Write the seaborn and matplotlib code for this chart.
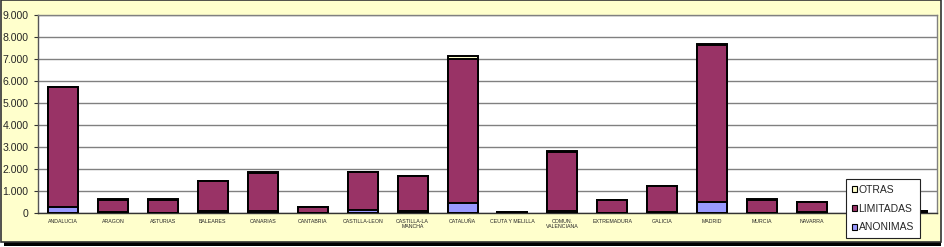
import matplotlib
matplotlib.use("Agg")
import matplotlib.pyplot as plt
import seaborn as sns
import pandas as pd
import numpy as np
from matplotlib.patches import Rectangle
from matplotlib.ticker import FuncFormatter

regions = ["ANDALUCIA", "ARAGON", "ASTURIAS", "BALEARES", "CANARIAS", "CANTABRIA",
           "CASTILLA-LEON", "CASTILLA-LA\nMANCHA", "CATALUÑA", "CEUTA Y MELILLA",
           "COMUN.\nVALENCIANA", "EXTREMADURA", "GALICIA", "MADRID", "MURCIA",
           "NAVARRA", "PAIS VASCO", "RIOJA"]
anonimas = [270, 40, 20, 80, 100, 20, 140, 80, 440, 5, 100, 20, 30, 500, 20, 60, 60, 10]
limitadas = [5450, 570, 590, 1360, 1740, 260, 1720, 1580, 6570, 50, 2690, 560, 1200, 7140, 590, 450, 900, 90]
otras = [20, 10, 10, 10, 20, 10, 20, 20, 130, 5, 30, 10, 20, 60, 10, 10, 20, 5]
yticks = [0, 1000, 2000, 3000, 4000, 5000, 6000, 7000, 8000, 9000]

df = pd.DataFrame({"region": regions, "ANONIMAS": anonimas,
                   "LIMITADAS": limitadas, "OTRAS": otras})
df["lvl1"] = df["ANONIMAS"]
df["lvl2"] = df["ANONIMAS"] + df["LIMITADAS"]
df["lvl3"] = df["lvl2"] + df["OTRAS"]

c_an, c_lim, c_ot = "#9999FF", "#993366", "#FFFFCC"
bg = "#FFFFCC"

sns.set_theme(style="white")
plt.rcParams["font.family"] = ["Liberation Sans", "DejaVu Sans"]

fig = plt.figure(figsize=(9.44, 2.47), dpi=100)
fig.patch.set_facecolor("white")
W, H = 944, 247
# shadow and chart area
fig.patches.append(Rectangle((4 / W, 1 - 246 / H), 937 / W, 240 / H, transform=fig.transFigure,
                             facecolor="black", edgecolor="none", zorder=-5))
fig.patches.append(Rectangle((0.5 / W, 1 - 242 / H), 940 / W, 241.5 / H, transform=fig.transFigure,
                             facecolor=bg, edgecolor="#333333", linewidth=1.2, zorder=-4))

ax = fig.add_axes([38 / W, 1 - 213 / H, (937 - 38) / W, (213 - 15) / H])
ax.set_facecolor("white")
kw = dict(data=df, x="region", order=regions, width=0.6, edgecolor="black",
          linewidth=1.4, ax=ax, zorder=3)
sns.barplot(y="lvl3", color=c_ot, saturation=1, **kw)
sns.barplot(y="lvl2", color=c_lim, saturation=1, **kw)
sns.barplot(y="lvl1", color=c_an, saturation=1, **kw)

ax.set_ylim(0, 9000)
ax.set_xlim(-0.5, len(regions) - 0.5)
ax.set_yticks(yticks)
ax.yaxis.set_major_formatter(FuncFormatter(lambda v, p: f"{int(v):,}".replace(",", ".")))
ax.tick_params(axis="y", labelsize=7.6, length=3, width=0.8, color="#333333", pad=4.0, left=True)
ax.tick_params(axis="x", labelsize=3.8, length=0, pad=4)
for lab in ax.get_xticklabels():
    lab.set_linespacing(1.0)
ax.set_xlabel("")
ax.set_ylabel("")
ax.yaxis.grid(True, color="#808080", linewidth=1.0, zorder=0)
ax.set_axisbelow(True)
for s in ax.spines.values():
    s.set_color("#808080")
    s.set_linewidth(1.0)
ax.spines["left"].set_color("#555555")
ax.spines["bottom"].set_color("#333333")

handles = [Rectangle((0, 0), 1, 1, facecolor=c, edgecolor="black", linewidth=0.8)
           for c in (c_ot, c_lim, c_an)]
leg = fig.legend(handles, ["OTRAS", "LIMITADAS", "ANONIMAS"], loc="upper left",
                 bbox_to_anchor=(846 / W, 1 - 179 / H), fontsize=7.5, frameon=True,
                 fancybox=False, handlelength=0.5, handleheight=0.5, handletextpad=0.15,
                 labelspacing=0.85, borderpad=0.55, borderaxespad=0, framealpha=1)
leg.get_frame().set_edgecolor("#222222")
leg.get_frame().set_linewidth(0.8)
leg.get_frame().set_facecolor("white")
leg.set_zorder(10)

fig.savefig("out.png", dpi=100, facecolor=fig.get_facecolor())
